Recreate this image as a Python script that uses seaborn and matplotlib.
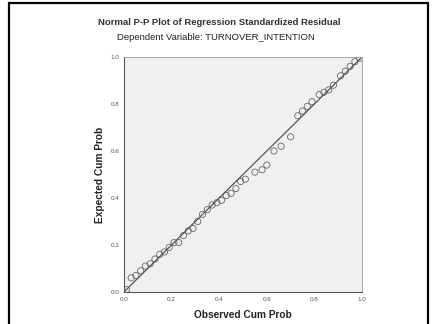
import matplotlib
matplotlib.use("Agg")
import matplotlib.pyplot as plt
import numpy as np
import seaborn as sns
from matplotlib.patches import Rectangle

observed_cum_prob = [
    0.01, 0.03, 0.05, 0.07, 0.09, 0.11, 0.13, 0.15, 0.17, 0.19,
    0.21, 0.23, 0.25, 0.27, 0.29, 0.31, 0.33, 0.35, 0.37, 0.39,
    0.41, 0.43, 0.45, 0.47, 0.49, 0.51, 0.55, 0.58, 0.60, 0.63,
    0.66, 0.70, 0.73, 0.75, 0.77, 0.79, 0.82, 0.84, 0.86, 0.88,
    0.91, 0.93, 0.95, 0.97, 0.99,
]
expected_cum_prob = [
    0.01, 0.06, 0.07, 0.09, 0.11, 0.12, 0.14, 0.16, 0.17, 0.19,
    0.21, 0.21, 0.24, 0.26, 0.27, 0.30, 0.33, 0.35, 0.37, 0.38,
    0.39, 0.41, 0.42, 0.44, 0.47, 0.48, 0.51, 0.52, 0.54, 0.60,
    0.62, 0.66, 0.75, 0.77, 0.79, 0.81, 0.84, 0.85, 0.86, 0.88,
    0.92, 0.94, 0.96, 0.98, 0.995,
]
reference_line = [0.0, 1.0]
tick_values = [0.0, 0.2, 0.4, 0.6, 0.8, 1.0]
tick_labels = ["0.0", "0.2", "0.4", "0.6", "0.8", "1.0"]

title = "Normal P-P Plot of Regression Standardized Residual"
subtitle = "Dependent Variable: TURNOVER_INTENTION"

sns.set_style("white")
plt.rcParams["font.family"] = ["Liberation Sans", "DejaVu Sans"]

fig = plt.figure(figsize=(4.32, 3.24), dpi=100)
ax = fig.add_axes([0.287, 0.099, 0.551, 0.725])
ax.set_facecolor("#f0f0f0")

sns.lineplot(x=reference_line, y=reference_line, ax=ax, color="#555555", linewidth=0.9)
sns.scatterplot(
    x=observed_cum_prob,
    y=expected_cum_prob,
    ax=ax,
    marker="o",
    s=20,
    facecolor="none",
    edgecolor="#666666",
    linewidth=0.6,
)

ax.set_xlim(0, 1)
ax.set_ylim(0, 1)
ax.set_xticks(tick_values)
ax.set_xticklabels(tick_labels)
ax.set_yticks(tick_values)
ax.set_yticklabels(tick_labels)
ax.tick_params(axis="both", labelsize=4.5, colors="#555555", length=2, width=0.6, pad=1.5)

for side in ["left", "bottom"]:
    ax.spines[side].set_color("#555555")
    ax.spines[side].set_linewidth(0.8)
for side in ["top", "right"]:
    ax.spines[side].set_color("#999999")
    ax.spines[side].set_linewidth(0.6)

ax.set_xlabel("Observed Cum Prob", fontsize=7.3, fontweight="bold", color="#222222", labelpad=6)
ax.set_ylabel("Expected Cum Prob", fontsize=7.3, fontweight="bold", color="#222222", labelpad=4)

fig.text(0.508, 0.93, title, ha="center", va="center", fontsize=6.8, fontweight="bold", color="#333333")
fig.text(0.5, 0.885, subtitle, ha="center", va="center", fontsize=6.8, color="#222222")

fig.patches.append(
    Rectangle((9 / 432, -0.05), 419 / 432, 1.04, transform=fig.transFigure,
              fill=False, edgecolor="black", linewidth=1.6)
)

fig.savefig("out.png", dpi=100)
